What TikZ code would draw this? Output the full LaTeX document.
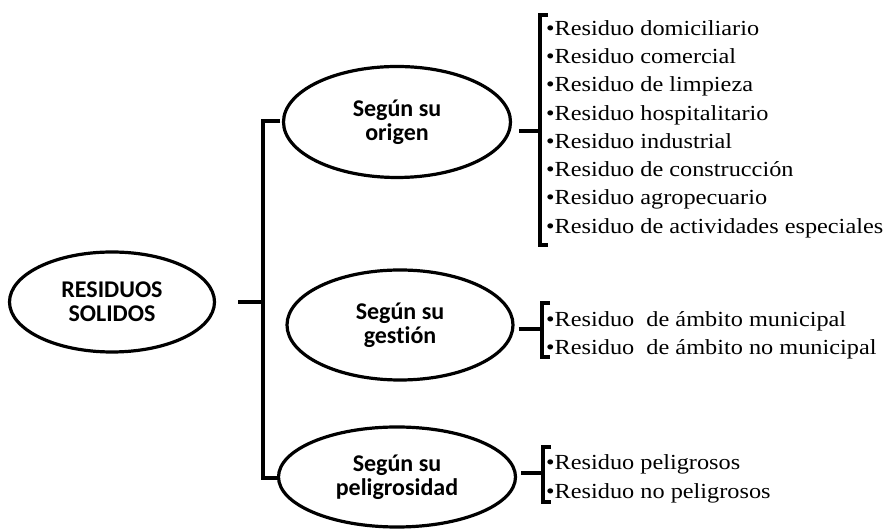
\documentclass[tikz,border=0pt]{standalone}
\usepackage{fontspec}
\setmainfont[FakeStretch=1.13]{Liberation Serif}
\newfontfamily\calibri[Ligatures=NoCommon]{Carlito}
\usetikzlibrary{calc,positioning,shapes.geometric}

\begin{document}
\begin{tikzpicture}[x=1pt,y=1pt,
    main/.style = {draw, ellipse, line width=3.2pt, align=center, inner sep=0pt,
      font=\calibri\bfseries\fontsize{24}{24}\selectfont},
    items/.style = {anchor=west, align=left, inner sep=0pt,
      font=\fontsize{21.5}{28.3}\selectfont},
    brace/.style = {line width=3.2pt}]
    \useasboundingbox (0,0) rectangle (890,529);
    % ellipses
    \node[main, minimum width=205pt, minimum height=100pt] (rs) at (112,227) {RESIDUOS\\SOLIDOS};
    \node[main, minimum width=227pt, minimum height=111pt] (origen) at (397,407) {Según su\\origen};
    \node[main, minimum width=226pt, minimum height=110pt] (gestion) at (400,204) {Según su\\gestión};
    \node[main, minimum width=237pt, minimum height=100pt] (peligro) at (397,52) {Según su\\peligrosidad};
    % lists
    \node[items] (lorigen) at (546,400) {•Residuo domiciliario\\•Residuo comercial\\•Residuo de limpieza\\•Residuo hospitalitario\\•Residuo industrial\\•Residuo de construcción\\•Residuo agropecuario\\•Residuo de actividades especiales};
    \node[items] (lgestion) at (546,194) {•Residuo\ \ de ámbito municipal\\•Residuo\ \ de ámbito no municipal};
    \node[items] (lpeligro) at (546,50) {•Residuo peligrosos\\•Residuo no peligrosos};
    % brackets
    \coordinate (bt) at (280,408);
    \coordinate (bb) at (278,51);
    \coordinate (bs) at (263,227);
    \draw[brace] ($(rs.east)+(22,0)$) -- (bs);
    \draw[brace] (bt) -- (bt -| bs) -- (bb -| bs) -- (bb);
    \coordinate (ot) at (548,514);
    \coordinate (ob) at (548,284);
    \coordinate (os) at (540,398);
    \draw[brace] ($(origen.east |- os)+(7,0)$) -- (os);
    \draw[brace] (ot) -- (ot -| os) -- (ob -| os) -- (ob);
    \coordinate (gt) at (550,226);
    \coordinate (gb) at (550,172);
    \coordinate (gs) at (542,200);
    \draw[brace] ($(gestion.east |- gs)+(4,0)$) -- (gs);
    \draw[brace] (gt) -- (gt -| gs) -- (gb -| gs) -- (gb);
    \coordinate (pt) at (551,82);
    \coordinate (pb) at (551,27);
    \coordinate (ps) at (543,56);
    \draw[brace] ($(peligro.east |- ps)+(4,0)$) -- (ps);
    \draw[brace] (pt) -- (pt -| ps) -- (pb -| ps) -- (pb);
\end{tikzpicture}
\end{document}
